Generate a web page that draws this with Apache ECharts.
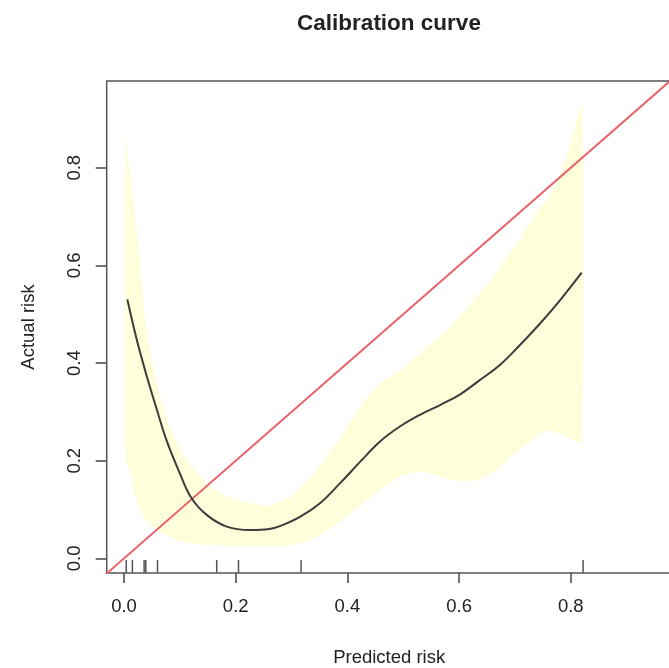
<!DOCTYPE html>
<html>
<head>
<meta charset="utf-8">
<script src="https://cdn.jsdelivr.net/npm/echarts@6/dist/echarts.min.js"></script>
<style>html,body{margin:0;padding:0;background:#fff}#c{width:669px;height:668px}</style>
</head>
<body>
<div id="c"></div>
<script>
// Calibration curve (smoothed) – predicted vs actual risk
const curveX = [0.006,0.023,0.041,0.059,0.076,0.100,0.121,0.148,0.184,0.226,0.260,0.279,0.315,0.351,0.387,0.423,0.458,0.494,0.530,0.566,0.602,0.637,0.673,0.709,0.745,0.781,0.8195];
const curveY = [0.530,0.447,0.372,0.304,0.242,0.174,0.123,0.089,0.065,0.058,0.060,0.066,0.085,0.113,0.154,0.198,0.239,0.270,0.294,0.314,0.336,0.365,0.396,0.437,0.481,0.529,0.585];

// Confidence band
const bandX     = [0.003,0.010,0.020,0.030,0.040,0.060,0.080,0.100,0.120,0.150,0.180,0.220,0.260,0.300,0.340,0.380,0.420,0.460,0.500,0.540,0.580,0.620,0.660,0.700,0.740,0.760,0.780,0.800,0.8195];
const bandUpper = [0.860,0.800,0.700,0.590,0.470,0.355,0.275,0.225,0.190,0.152,0.130,0.115,0.108,0.128,0.175,0.235,0.305,0.360,0.390,0.430,0.470,0.520,0.575,0.640,0.710,0.740,0.785,0.850,0.930];
const bandLower = [0.200,0.180,0.130,0.097,0.078,0.057,0.045,0.036,0.031,0.027,0.026,0.024,0.024,0.028,0.040,0.070,0.105,0.142,0.170,0.177,0.162,0.158,0.175,0.215,0.250,0.262,0.256,0.245,0.238];

// Rug of predicted risks
const rugX = [0.004,0.015,0.036,0.039,0.060,0.166,0.205,0.317,0.822];

// Ideal line
const idealX = [-0.1, 1.1];

// Tick labels
const tickValues = [0, 0.2, 0.4, 0.6, 0.8];

const X_MIN = -0.031, X_MAX = 0.9807;
const Y_MIN = -0.030, Y_MAX = 0.9777;

const chart = echarts.init(document.getElementById('c'), null, {renderer: 'canvas'});
const font = '"Liberation Sans", Arial, Helvetica, sans-serif';
const textColor = '#222';

const option = {
  animation: false,
  backgroundColor: '#fff',
  title: {
    text: 'Calibration curve',
    left: 384, top: 7, textAlign: 'center',
    textStyle: {fontFamily: font, fontSize: 22.5, fontWeight: 'bold', color: textColor}
  },
  grid: {
    left: 106.7, top: 81, width: 565, bottom: 95,
    outerBoundsMode: 'none', containLabel: false,
    show: true, borderColor: '#555', borderWidth: 1.5, backgroundColor: 'transparent'
  },
  xAxis: {
    type: 'value', min: X_MIN, max: X_MAX,
    name: 'Predicted risk', nameLocation: 'middle', nameGap: 75,
    nameTextStyle: {fontFamily: font, fontSize: 18.5, color: textColor},
    axisLine: {show: false, onZero: false},
    splitLine: {show: false},
    axisTick: {show: true, inside: false, length: 10, customValues: tickValues, lineStyle: {color: '#444', width: 1.5}},
    axisLabel: {customValues: tickValues, margin: 24, fontFamily: font, fontSize: 18.5, color: textColor,
      formatter: v => v.toFixed(1)}
  },
  yAxis: {
    type: 'value', min: Y_MIN, max: Y_MAX,
    name: 'Actual risk', nameLocation: 'middle', nameGap: 68, nameRotate: 90,
    nameTextStyle: {fontFamily: font, fontSize: 18.5, color: textColor},
    axisLine: {show: false, onZero: false},
    splitLine: {show: false},
    axisTick: {show: true, inside: false, length: 11, customValues: tickValues, lineStyle: {color: '#444', width: 1.5}},
    axisLabel: {customValues: tickValues, rotate: 90, margin: 22, fontFamily: font, fontSize: 18.5, color: textColor,
      formatter: v => v.toFixed(1)}
  },
  series: [
    {
      name: 'band', type: 'custom', silent: true, clip: true,
      data: [[bandX[0], bandLower[0]]],
      encode: {x: 0, y: 1},
      renderItem: function (params, api) {
        const pts = [];
        for (let i = 0; i < bandX.length; i++) pts.push(api.coord([bandX[i], bandUpper[i]]));
        for (let i = bandX.length - 1; i >= 0; i--) pts.push(api.coord([bandX[i], bandLower[i]]));
        return {
          type: 'polygon',
          shape: {points: pts, smooth: 0.25},
          style: {fill: '#FFFEDA', stroke: null}
        };
      }
    },
    {
      name: 'ideal', type: 'line', symbol: 'none', clip: true,
      lineStyle: {color: '#E8636C', width: 2},
      data: idealX.map(v => [v, v])
    },
    {
      name: 'calibration', type: 'line', symbol: 'none', smooth: 0.4,
      lineStyle: {color: '#3c3c3c', width: 2},
      data: curveX.map((x, i) => [x, curveY[i]])
    },
    {
      name: 'rug', type: 'custom', silent: true,
      data: rugX.map(v => [v]),
      encode: {x: 0},
      renderItem: function (params, api) {
        const p = api.coord([api.value(0), Y_MIN]);
        return {
          type: 'line',
          shape: {x1: p[0], y1: p[1], x2: p[0], y2: p[1] - 13},
          style: {stroke: '#555', lineWidth: 1.5}
        };
      }
    }
  ]
};
chart.setOption(option);
</script>
</body>
</html>
